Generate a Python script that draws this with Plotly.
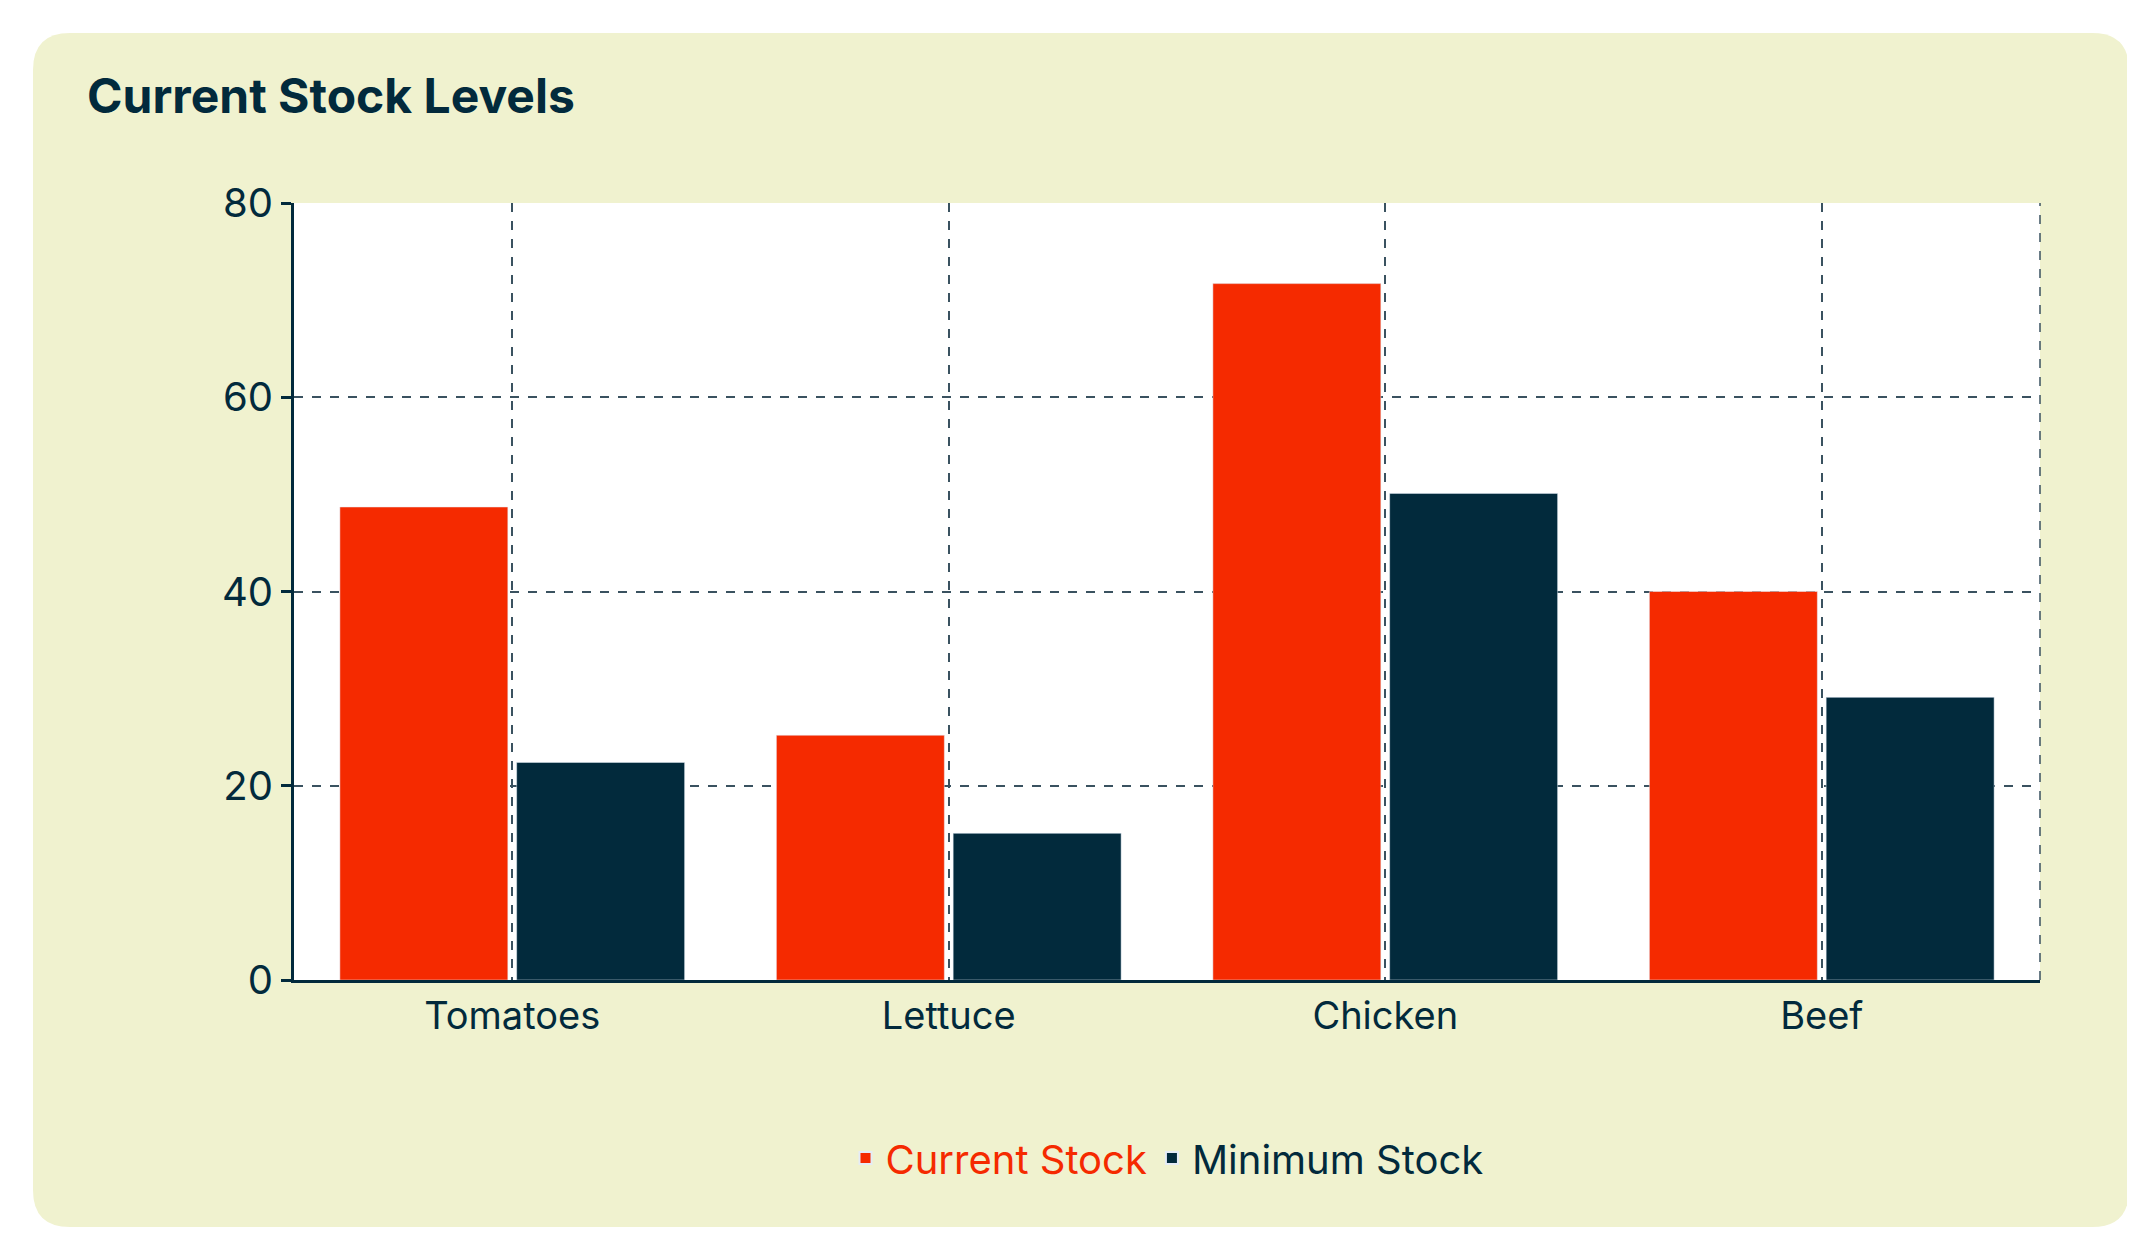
import plotly.graph_objects as go

categories = ["Tomatoes", "Lettuce", "Chicken", "Beef"]
current_stock = [48.7, 25.2, 71.7, 40.0]
minimum_stock = [22.4, 15.1, 50.1, 29.1]
y_ticks = [0, 20, 40, 60, 80]

RED = "#f52a00"
NAVY = "#022a3c"
CARD = "#f0f2cf"
W, H = 2135, 1236
L, R, T, B = 286, 103, 195, 264
pw, ph = W - L - R, H - T - B

def px(x): return (x - L) / pw
def py(y): return (H - B - y) / ph

x0, x1, y0, y1 = px(25), px(2121), py(1219), py(25)
rx, ry = 37 / pw, 37 / ph
card_path = (f"M {x0+rx},{y1} L {x1-rx},{y1} Q {x1},{y1} {x1},{y1-ry} "
             f"L {x1},{y0+ry} Q {x1},{y0} {x1-rx},{y0} L {x0+rx},{y0} "
             f"Q {x0},{y0} {x0},{y0+ry} L {x0},{y1-ry} Q {x0},{y1} {x0+rx},{y1} Z")

fig = go.Figure()
fig.add_bar(x=categories, y=current_stock, name="Current Stock", marker_color=RED)
fig.add_bar(x=categories, y=minimum_stock, name="Minimum Stock", marker_color=NAVY)

fig.update_layout(
    width=W, height=H,
    margin=dict(l=L, r=R, t=T, b=B),
    paper_bgcolor="white", plot_bgcolor="white",
    barmode="group", bargap=0.19, bargroupgap=0.05,
    font=dict(family="Inter, Open Sans, sans-serif", color=NAVY),
    title=dict(text="<b>Current Stock Levels</b>", x=79 / W, xanchor="left",
               y=1 - 88 / H, yanchor="middle", font=dict(size=48, color=NAVY)),
    showlegend=True,
    legend=dict(orientation="h", x=0.5, xanchor="center", y=py(1150), yanchor="middle",
                font=dict(size=40), itemsizing="constant", bgcolor="rgba(0,0,0,0)"),
    shapes=[
        dict(type="path", path=card_path, xref="paper", yref="paper",
             fillcolor=CARD, line=dict(width=0), layer="below"),
        dict(type="rect", x0=0, x1=1, y0=0, y1=1, xref="paper", yref="paper",
             fillcolor="white", line=dict(width=0), layer="below"),
        dict(type="line", x0=1, x1=1, y0=0, y1=1, xref="paper", yref="paper",
             line=dict(color="#3a5260", width=1.5, dash="dash")),
    ],
)
fig.update_xaxes(showline=True, linecolor=NAVY, linewidth=3, showgrid=True,
                 gridcolor="#3a5260", gridwidth=1.5, griddash="dash",
                 tickfont=dict(size=38, color=NAVY), ticks="", range=[-0.5, 3.5])
fig.update_yaxes(range=[0, 80], tickvals=y_ticks, showline=True, linecolor=NAVY,
                 linewidth=3, ticks="outside", ticklen=10, tickwidth=3, tickcolor=NAVY,
                 showgrid=True, gridcolor="#3a5260", gridwidth=1.5, griddash="dash",
                 tickfont=dict(size=40, color=NAVY), zeroline=False)

fig.data[0].legendgrouptitle = None
fig.update_layout(legend_font_color=NAVY)
fig.data[0].update(name=f"<span style='color:{RED}'>Current Stock</span>")
fig.write_html("out.html")
